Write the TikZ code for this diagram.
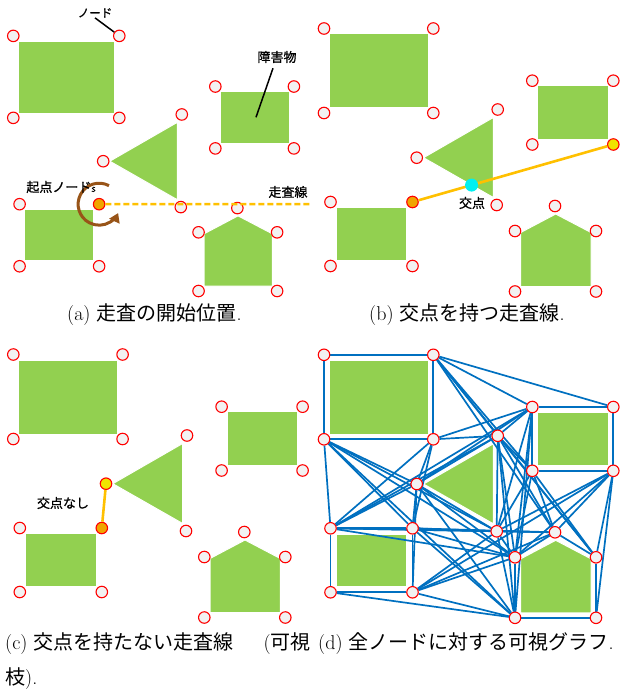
\documentclass[tikz,border=0pt]{standalone}
\usepackage{fontspec}
\newfontfamily\jp{Noto Sans CJK JP}
\newfontfamily\jpl[FakeBold=0.8]{Noto Sans CJK JP}
\usetikzlibrary{arrows.meta}
\definecolor{obsgreen}{HTML}{92D050}
\definecolor{ndfill}{HTML}{F2F2F2}
\definecolor{startor}{HTML}{F0A500}
\definecolor{endyel}{HTML}{F0E400}
\definecolor{scanor}{HTML}{FFC000}
\definecolor{edgeblue}{HTML}{0070C0}
\definecolor{arcbrown}{HTML}{985418}
\definecolor{xcyan}{HTML}{00F0F0}
\pgfdeclarelayer{bg}
\pgfsetlayers{bg,main}

\newcommand\obstacles[1]{%
  \path[obst] (329.5,34) rectangle (428.3,108);
  \path[obst] (537.7,85.7) rectangle (608.3,139.3);
  \coordinate (#1v1) at (423.5,157.7);
  \coordinate (#1v2) at (493.3,117.5);
  \coordinate (#1v3) at (493.3,197.5);
  \path[obst] (#1v1) -- (#1v2) -- (#1v3) -- cycle;
  \path[obst] (336,207.7) rectangle (406.7,260.5);
  \path[obst] (555.7,214) -- (591,232.5) -- (591,286.5) -- (520.7,286.5) -- (520.7,232.5) -- cycle;
}
\newcommand\gnodes[1]{%
  \node[nd] (#1a1) at (324,28.5) {};
  \node[nd] (#1a2) at (433.3,28.5) {};
  \node[nd] (#1a3) at (324,113) {};
  \node[nd] (#1a4) at (433.3,113) {};
  \node[nd] (#1b1) at (532.3,80.7) {};
  \node[nd] (#1b2) at (613.3,80.7) {};
  \node[nd] (#1b3) at (532.3,144.5) {};
  \node[nd,sb4] (#1b4) at (613.3,144.5) {};
  \node[nd,st1] (#1t1) at (416.7,157.7) {};
  \node[nd] (#1t2) at (497.7,109.5) {};
  \node[nd] (#1t3) at (496.7,205) {};
  \node[nd] (#1c1) at (330.5,202) {};
  \node[nd,sc2] (#1c2) at (412.5,202) {};
  \node[nd] (#1c3) at (330.5,266) {};
  \node[nd] (#1c4) at (412.5,266) {};
  \node[nd] (#1p1) at (555,206) {};
  \node[nd] (#1p2) at (515,231) {};
  \node[nd] (#1p3) at (596,231) {};
  \node[nd] (#1p4) at (515,291.5) {};
  \node[nd] (#1p5) at (596,291.5) {};
}

\begin{document}
\begin{tikzpicture}[x=1pt,y=-1pt,
  obst/.style={fill=obsgreen,draw=white,line width=1pt},
  nd/.style={circle,draw=red,fill=ndfill,line width=1.1pt,minimum size=11.5pt,inner sep=0pt},
  sb4/.style={}, st1/.style={}, sc2/.style={},
  lab/.style={font=\jpl\fontsize{13}{15}\selectfont,inner sep=0pt},
  leadline/.style={draw=black,line width=1.5pt},
  scanline/.style={draw=scanor,line width=2.6pt},
  visedge/.style={draw=edgeblue,line width=1.7pt},
  captext/.style={font=\fontsize{20}{24}\selectfont,inner sep=0pt,anchor=west},
  xdot/.style={circle,fill=xcyan,minimum size=13pt,inner sep=0pt},
  brownarc/.style={draw=arcbrown,line width=3pt,-{Triangle[length=9pt,width=11pt]}}]
\useasboundingbox (0,0) rectangle (619,692);

% ---------- (a) ----------
\begin{scope}[shift={(-301,8.25)},scale=0.97,sc2/.style={fill=startor}]
  \obstacles{a}
  \gnodes{a}
\end{scope}
\coordinate (scanEnd) at (312,204.2);
\draw[scanline,line width=2.4pt,dash pattern=on 6pt off 3pt] (ac2) -- (scanEnd);
\draw[brownarc] (ac2.center) ++(-62:21) arc[start angle=-62,end angle=-335,radius=21];
\node[lab,font=\jpl\fontsize{11.5}{13}\selectfont] (labNode) at (95,13) {ノード};
\draw[leadline] (labNode.south) -- (aa2);
\node[lab] (labObs) at (277,57) {障害物};
\coordinate (obsPt) at (256,117.3);
\draw[leadline] (labObs.south) ++(-4,5) -- (obsPt);
\node[lab] (labStart) at (61,187) {起点ノード{\fontsize{9}{10}\selectfont s}};
\node[lab] (labScan) at (288,192) {走査線};

% ---------- (b) ----------
\begin{scope}[sc2/.style={fill=startor},sb4/.style={fill=endyel}]
  \obstacles{b}
  \gnodes{b}
\end{scope}
\draw[scanline] (bc2) -- (bb4);
\coordinate (bX) at (intersection of bc2.center--bb4.center and bv1--bv3);
\node[xdot] (bXn) at (bX) {};
\node[lab] (labX) at (472,203) {交点};

% ---------- (c) ----------
\begin{scope}[shift={(-310.7,326)},sc2/.style={fill=startor},st1/.style={fill=endyel}]
  \obstacles{c}
  \gnodes{c}
\end{scope}
\draw[scanline] (cc2) -- (ct1);
\node[lab] (labNoX) at (63,503) {交点なし};

% ---------- (d) ----------
\begin{scope}[shift={(0,326.3)}]
  \begin{pgfonlayer}{bg}
    \obstacles{d}
  \end{pgfonlayer}
  \gnodes{d}
\end{scope}
\begin{pgfonlayer}{bg}
\foreach \u/\v in {a1/a2, a1/a3, a2/a4, a3/a4, a2/b1, a2/b2, a2/t2, a2/b3, a2/p1, a2/p3,
  a3/c1, a3/t1, a3/c2, a3/t3, a3/p2, a3/p4, a4/b1, a4/t2, a4/t1, a4/c1, a4/c2,
  b1/b2, b1/b3, b2/b4, b3/b4, b1/t2, b1/t1, b1/c1, b1/t3, b1/p2, b1/p4,
  b4/p3, b4/p5, b4/p1, b4/p2, b4/t3, b4/c4, b3/t2, b3/t3, b3/p1, b3/p2, b3/p3,
  t1/t2, t2/t3, t1/t3, t2/p1, t2/p2, t2/p4, t2/p3, t2/c1,
  t1/c1, t1/c2, t1/c4, t1/p2, t1/p4, t3/p1, t3/p2, t3/p4, t3/c1, t3/c2, t3/c4,
  c1/c2, c1/c3, c2/c4, c3/c4, c1/p1, c1/p2, c2/p1, c2/p2, c2/p4, c3/p4,
  c4/p4, c4/p2, c4/p1, p1/p2, p1/p3, p2/p4, p3/p5, p4/p5}
  \draw[visedge] (d\u) -- (d\v);
\end{pgfonlayer}

% ---------- captions ----------
\node[captext] (capA) at (67,315) {(a) {\jp 走査の開始位置}.};
\node[captext] (capB) at (369,315) {(b) {\jp 交点を持つ走査線}.};
\node[captext] (capC1) at (5,644) {(c) {\jp 交点を持たない走査線}};
\node[captext,anchor=east] (capC2) at (311,644) {({\jp 可視}};
\node[captext] (capC3) at (5,679) {{\jp 枝}).};
\node[captext] (capD) at (318,644) {(d) {\jp 全ノードに対する可視グラフ}.};
\end{tikzpicture}
\end{document}
